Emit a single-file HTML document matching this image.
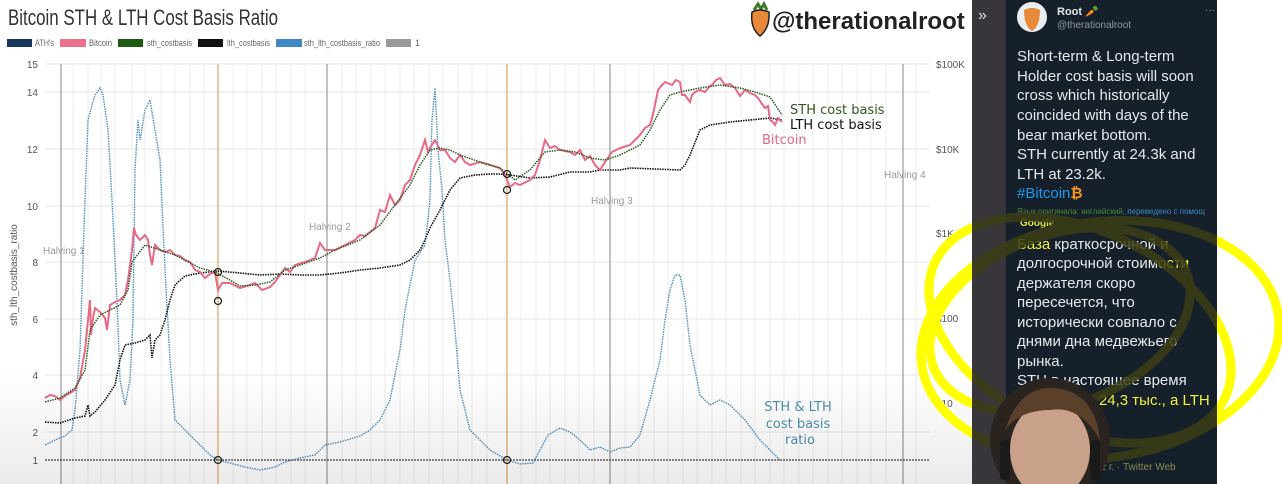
<!DOCTYPE html>
<html><head><meta charset="utf-8"><style>
html,body{margin:0;padding:0;background:#fff;}
body{width:1282px;height:484px;overflow:hidden;position:relative;font-family:"Liberation Sans",sans-serif;}
svg{position:absolute;left:0;top:0;}
</style></head><body>
<svg width="1282" height="484" viewBox="0 0 1282 484" xmlns="http://www.w3.org/2000/svg" font-family="Liberation Sans, sans-serif">
<defs>
<linearGradient id="fade" x1="0" y1="0" x2="0" y2="1">
<stop offset="0" stop-color="#000" stop-opacity="0"/>
<stop offset="1" stop-color="#000" stop-opacity="0.08"/>
</linearGradient>
<clipPath id="panel"><rect x="972" y="0" width="245" height="484"/></clipPath>
<clipPath id="outside"><path d="M0 0H972V484H0Z M1217 0H1282V484H1217Z"/></clipPath>
</defs>
<rect width="1282" height="484" fill="#fff"/>
<text x="8" y="25" font-size="22" fill="#333" textLength="270" lengthAdjust="spacingAndGlyphs">Bitcoin STH &amp; LTH Cost Basis Ratio</text>
<g transform="translate(748,4)">
<path d="M6 6 L10 0 L13 5 L16 0 L19 6" stroke="#3a7a2a" stroke-width="3" fill="none"/>
<path d="M4 8 Q12 4 21 8 Q22 24 12 32 Q2 24 4 8Z" fill="#e8893a" stroke="#222" stroke-width="1.5"/>
</g>
<text x="772" y="29" font-size="24" font-weight="bold" fill="#222">@therationalroot</text>
<g font-size="9" fill="#666">
<rect x="7" y="39" width="25" height="8" fill="#17375e"/><text x="35" y="46" textLength="19" lengthAdjust="spacingAndGlyphs">ATH's</text>
<rect x="60" y="39" width="26" height="8" fill="#ec6f8c"/><text x="89" y="46" textLength="23" lengthAdjust="spacingAndGlyphs">Bitcoin</text>
<rect x="118" y="39" width="25" height="8" fill="#1f5a12"/><text x="147" y="46" textLength="45" lengthAdjust="spacingAndGlyphs">sth_costbasis</text>
<rect x="198" y="39" width="25" height="8" fill="#111"/><text x="227" y="46" textLength="43" lengthAdjust="spacingAndGlyphs">lth_costbasis</text>
<rect x="276" y="39" width="26" height="8" fill="#3e87c4"/><text x="304" y="46" textLength="76" lengthAdjust="spacingAndGlyphs">sth_lth_costbasis_ratio</text>
<rect x="386" y="39" width="25" height="8" fill="#999"/><text x="415" y="46">1</text>
</g>
<g stroke="#e6e6e6" stroke-width="1">
<line x1="45" y1="64" x2="930" y2="64"/><line x1="45" y1="92" x2="930" y2="92"/>
<line x1="45" y1="149" x2="930" y2="149"/><line x1="45" y1="206" x2="930" y2="206"/>
<line x1="45" y1="262" x2="930" y2="262"/><line x1="45" y1="319" x2="930" y2="319"/>
<line x1="45" y1="375" x2="930" y2="375"/><line x1="45" y1="432" x2="930" y2="432"/>
</g>
<g stroke="#ececec" stroke-width="1">
<line x1="73" y1="64" x2="73" y2="484"/><line x1="88" y1="64" x2="88" y2="484"/><line x1="101" y1="64" x2="101" y2="484"/><line x1="115" y1="64" x2="115" y2="484"/><line x1="132" y1="64" x2="132" y2="484"/><line x1="145" y1="64" x2="145" y2="484"/><line x1="161" y1="64" x2="161" y2="484"/><line x1="175" y1="64" x2="175" y2="484"/><line x1="190" y1="64" x2="190" y2="484"/><line x1="204" y1="64" x2="204" y2="484"/><line x1="233" y1="64" x2="233" y2="484"/><line x1="247" y1="64" x2="247" y2="484"/><line x1="262" y1="64" x2="262" y2="484"/><line x1="276" y1="64" x2="276" y2="484"/><line x1="291" y1="64" x2="291" y2="484"/><line x1="305" y1="64" x2="305" y2="484"/><line x1="342" y1="64" x2="342" y2="484"/><line x1="356" y1="64" x2="356" y2="484"/><line x1="371" y1="64" x2="371" y2="484"/><line x1="385" y1="64" x2="385" y2="484"/><line x1="400" y1="64" x2="400" y2="484"/><line x1="414" y1="64" x2="414" y2="484"/><line x1="429" y1="64" x2="429" y2="484"/><line x1="443" y1="64" x2="443" y2="484"/><line x1="458" y1="64" x2="458" y2="484"/><line x1="472" y1="64" x2="472" y2="484"/><line x1="487" y1="64" x2="487" y2="484"/><line x1="521" y1="64" x2="521" y2="484"/><line x1="536" y1="64" x2="536" y2="484"/><line x1="550" y1="64" x2="550" y2="484"/><line x1="565" y1="64" x2="565" y2="484"/><line x1="579" y1="64" x2="579" y2="484"/><line x1="594" y1="64" x2="594" y2="484"/><line x1="625" y1="64" x2="625" y2="484"/><line x1="639" y1="64" x2="639" y2="484"/><line x1="654" y1="64" x2="654" y2="484"/><line x1="668" y1="64" x2="668" y2="484"/><line x1="683" y1="64" x2="683" y2="484"/><line x1="697" y1="64" x2="697" y2="484"/><line x1="712" y1="64" x2="712" y2="484"/><line x1="726" y1="64" x2="726" y2="484"/><line x1="741" y1="64" x2="741" y2="484"/><line x1="755" y1="64" x2="755" y2="484"/><line x1="770" y1="64" x2="770" y2="484"/><line x1="784" y1="64" x2="784" y2="484"/><line x1="799" y1="64" x2="799" y2="484"/><line x1="813" y1="64" x2="813" y2="484"/><line x1="828" y1="64" x2="828" y2="484"/><line x1="842" y1="64" x2="842" y2="484"/><line x1="857" y1="64" x2="857" y2="484"/><line x1="871" y1="64" x2="871" y2="484"/><line x1="886" y1="64" x2="886" y2="484"/><line x1="916" y1="64" x2="916" y2="484"/>
</g>
<g stroke="#999" stroke-width="1.2">
<line x1="61" y1="64" x2="61" y2="484"/><line x1="327" y1="64" x2="327" y2="484"/><line x1="610" y1="64" x2="610" y2="484"/><line x1="903" y1="64" x2="903" y2="484"/>
</g>
<g stroke="#e3b980" stroke-width="1.5"><line x1="218" y1="64" x2="218" y2="484"/><line x1="507" y1="64" x2="507" y2="484"/></g>
<g font-size="10" fill="#555" text-anchor="end">
<text x="38" y="68">15</text><text x="38" y="96">14</text><text x="38" y="153">12</text><text x="38" y="210">10</text><text x="38" y="266">8</text><text x="38" y="323">6</text><text x="38" y="379">4</text><text x="38" y="436">2</text><text x="38" y="464">1</text>
</g>
<text transform="translate(17,275) rotate(-90)" font-size="10" fill="#555" text-anchor="middle">sth_lth_costbasis_ratio</text>
<g font-size="10" fill="#555">
<text x="936" y="68">$100K</text><text x="936" y="153">$10K</text><text x="936" y="237">$1K</text><text x="936" y="322">$100</text><text x="936" y="407">$10</text>
</g>
<g font-size="10" fill="#999">
<text x="43" y="254">Halving 1</text><text x="309" y="230">Halving 2</text><text x="591" y="204">Halving 3</text><text x="884" y="178">Halving 4</text>
</g>
<line x1="45" y1="460" x2="930" y2="460" stroke="#444" stroke-width="1.2" stroke-dasharray="2 1"/>
<polyline fill="none" stroke="#4f8fbf" stroke-width="1.4" stroke-dasharray="1.5 1" points="45,445 55,440 65,436 72,430 75,410 80,350 85,200 88,120 92,105 95,95 100,88 103,95 108,130 112,200 117,300 120,380 125,405 130,380 133,320 135,170 138,120 140,140 145,110 150,100 155,130 160,160 165,270 170,360 175,420 185,430 200,445 210,455 218,460 230,463 245,467 260,470 275,467 285,462 300,458 315,455 325,445 340,442 360,436 370,430 380,420 390,400 400,350 405,310 415,260 425,245 430,200 432,120 435,88 438,150 442,190 445,240 450,280 455,330 460,390 470,430 490,450 507,460 520,464 533,463 540,450 548,435 560,428 570,432 580,440 590,450 600,447 610,452 620,448 630,447 640,435 650,400 660,360 665,320 670,290 675,275 680,275 685,300 690,345 700,395 710,405 720,400 730,405 745,420 760,440 780,460"/>
<polyline fill="none" stroke="#111" stroke-width="1.6" stroke-dasharray="1.5 1" points="45,422 60,423 75,418 85,416 88,405 90,416 95,412 105,400 115,385 120,360 125,345 135,343 145,340 150,335 152,358 155,340 160,335 165,320 170,300 175,285 185,276 200,273 218,271 240,273 260,275 280,274 300,275 320,275 340,273 360,270 380,268 400,265 410,260 420,250 425,240 430,228 440,210 450,190 460,178 475,175 490,174 500,174 510,175 530,178 550,177 570,172 590,172 600,170 620,170 630,168 680,170 685,165 690,155 700,130 710,125 730,122 750,120 770,118 782,120"/>
<polyline fill="none" stroke="#e66a86" stroke-width="2" points="45,398 50,395 55,396 60,400 65,396 70,393 75,390 80,378 85,350 88,320 90,300 91,335 93,318 95,308 100,312 105,318 107,330 110,305 115,302 120,300 125,295 128,280 132,250 134,228 136,235 140,240 145,235 148,240 150,255 152,265 155,245 160,250 165,252 170,250 175,255 180,256 185,260 190,262 195,270 200,272 205,278 210,274 215,272 218,290 222,283 230,283 240,288 250,285 255,283 262,290 270,287 275,282 285,268 290,272 295,265 305,262 315,258 320,243 325,250 335,250 345,245 355,240 360,235 365,236 370,232 375,228 380,210 385,212 390,195 395,205 400,200 405,185 410,180 415,165 420,155 425,140 428,152 430,148 435,140 440,150 445,150 450,158 455,162 460,155 465,162 470,165 480,162 490,165 500,168 505,175 510,187 515,183 520,185 530,180 535,175 540,160 545,140 550,148 555,146 560,150 570,152 575,155 580,150 585,160 590,156 595,165 600,170 605,162 612,152 620,148 630,145 640,135 645,128 650,125 652,118 655,105 658,90 662,85 665,82 670,84 672,85 676,80 680,82 682,95 685,95 690,102 692,95 695,92 700,90 705,92 710,86 712,85 716,80 720,78 725,85 730,84 735,88 740,96 745,90 750,93 755,95 758,98 762,104 765,108 768,106 770,120 773,122 775,125 778,118 782,122"/>
<polyline fill="none" stroke="#2f5a1f" stroke-width="1.5" stroke-dasharray="1.5 1" points="45,402 60,398 75,388 85,370 90,330 100,315 110,310 120,305 128,290 132,262 145,245 160,250 175,255 200,268 215,272 230,280 240,286 255,285 270,282 285,270 300,265 320,258 335,250 360,240 380,225 395,205 410,185 420,165 430,150 440,148 450,150 460,155 480,162 500,168 505,172 515,180 530,170 545,152 560,150 575,152 590,158 605,160 620,155 640,145 650,130 660,110 670,95 680,92 700,88 720,85 740,88 755,92 770,97 782,115"/>
<g fill="none" stroke="#222" stroke-width="1.3">
<circle cx="218" cy="272" r="3.5"/><circle cx="218" cy="301" r="3.5"/><circle cx="218" cy="460" r="3.5"/>
<circle cx="507" cy="174" r="3.5"/><circle cx="507" cy="190" r="3.5"/><circle cx="507" cy="460" r="3.5"/>
</g>
<text x="790" y="114" font-size="13" fill="#2f5a1f" font-family="DejaVu Sans, sans-serif">STH cost basis</text>
<text x="790" y="129" font-size="13" fill="#111" font-family="DejaVu Sans, sans-serif">LTH cost basis</text>
<text x="762" y="144" font-size="13" fill="#e06682" font-family="DejaVu Sans, sans-serif">Bitcoin</text>
<g font-size="13" fill="#4f8fb0" font-family="DejaVu Sans, sans-serif" text-anchor="middle">
<text x="798" y="411">STH &amp; LTH</text><text x="798" y="428">cost basis</text><text x="800" y="444">ratio</text>
</g>
<rect x="0" y="370" width="972" height="114" fill="url(#fade)"/>
<rect x="972" y="0" width="34" height="484" fill="#38363a"/>
<text x="978" y="20" font-size="16" fill="#ddd">»</text>
<rect x="1006" y="0" width="211" height="484" fill="#15202b"/>
<circle cx="1032" cy="17" r="15" fill="#e9eef0"/>
<path d="M1024 10 Q1032 6 1040 10 Q1040 26 1032 31 Q1024 26 1024 10Z" fill="#e8893a"/>
<text x="1057" y="15" font-size="11" font-weight="bold" fill="#e6e6e6">Root 🥕</text>
<text x="1057" y="28" font-size="10" fill="#8899a6">@therationalroot</text>
<text x="1205" y="13" font-size="10" fill="#8899a6">···</text>
<g font-size="15" fill="#e7e9ea">
<text x="1017" y="61">Short-term &amp; Long-term</text>
<text x="1017" y="81">Holder cost basis will soon</text>
<text x="1017" y="100">cross which historically</text>
<text x="1017" y="120">coincided with days of the</text>
<text x="1017" y="140">bear market bottom.</text>
<text x="1017" y="159">STH currently at 24.3k and</text>
<text x="1017" y="179">LTH at 23.2k.</text>
<text x="1017" y="198" fill="#1d9bf0">#Bitcoin<tspan fill="#f7931a" font-weight="bold">₿</tspan></text>
</g>
<text x="1017" y="214" font-size="8" fill="#4b8a3a">Язык оригинала: английский, <tspan fill="#3a8ac0">переведено с помощ</tspan></text>
<text x="1020" y="226" font-size="10" font-weight="bold" fill="#e6e63a">Google</text>
<g font-size="15" fill="#e7e9ea" font-family="Liberation Sans, DejaVu Sans, sans-serif">
<text x="1017" y="249"><tspan fill="#f2f23a">База</tspan> краткосрочной <tspan fill="#f2f23a">и</tspan></text>
<text x="1017" y="268">долгосрочной стоим<tspan fill="#f2f23a">ости</tspan></text>
<text x="1017" y="288">держателя скоро</text>
<text x="1017" y="307">пересечется, что</text>
<text x="1017" y="327">исторически совпало с</text>
<text x="1017" y="346">днями дна медвежьего</text>
<text x="1017" y="366">рынка.</text>
<text x="1017" y="385">STH в настоящее время</text>
<text x="1017" y="405">составляет <tspan fill="#f2f23a">24,3 тыс., а LTH</tspan></text>
</g>
<text x="1095" y="470" font-size="10" fill="#8a8a50">22 г. · Twitter Web</text>
<g fill="none" stroke-width="9" stroke-linecap="round">
<g stroke="#ffff00" clip-path="url(#outside)">
<ellipse cx="1100" cy="340" rx="180" ry="118" transform="rotate(-8 1100 340)"/>
<ellipse cx="1080" cy="330" rx="160" ry="100" transform="rotate(25 1080 330)"/>
<ellipse cx="1060" cy="320" rx="135" ry="85" transform="rotate(-20 1060 320)"/>
</g>
<g stroke="#3c3e14" clip-path="url(#panel)" opacity="0.85">
<ellipse cx="1100" cy="340" rx="180" ry="118" transform="rotate(-8 1100 340)"/>
<ellipse cx="1080" cy="330" rx="160" ry="100" transform="rotate(25 1080 330)"/>
<ellipse cx="1060" cy="320" rx="135" ry="85" transform="rotate(-20 1060 320)"/>
</g>
</g>
<g>
<ellipse cx="1050" cy="440" rx="60" ry="62" fill="#2a2420"/>
<ellipse cx="1050" cy="450" rx="40" ry="48" fill="#c9a08a"/>
<path d="M1005 430 Q1020 385 1055 388 Q1095 392 1100 440 Q1080 405 1050 410 Q1020 410 1005 430Z" fill="#5a3f2a"/>
<rect x="1000" y="440" width="10" height="40" rx="4" fill="#1a1a1a"/>
<rect x="1090" y="440" width="10" height="40" rx="4" fill="#1a1a1a"/>
</g>
</svg>
</body></html>
